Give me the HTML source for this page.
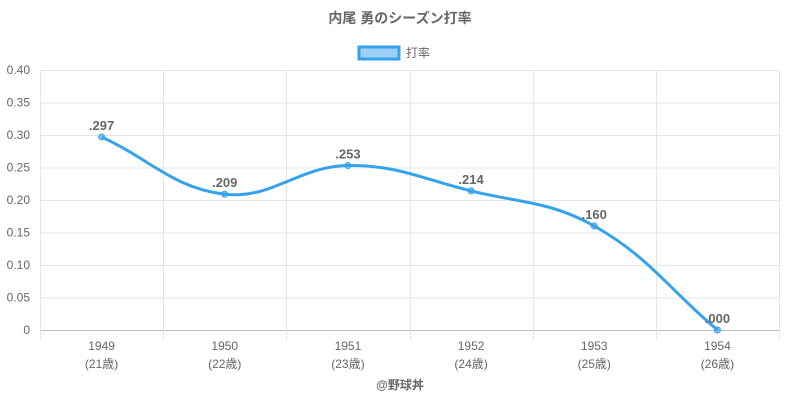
<!DOCTYPE html>
<html><head><meta charset="utf-8"><style>
body{margin:0;background:#fff;}
svg text{font-family:"Liberation Sans","Noto Sans CJK JP",sans-serif;}
</style></head><body>
<svg id="c" width="800" height="400" xmlns="http://www.w3.org/2000/svg"></svg>
<script>
const categories=["1949","1950","1951","1952","1953","1954"];
const ages=["(21歳)","(22歳)","(23歳)","(24歳)","(25歳)","(26歳)"];
const values=[0.297,0.209,0.253,0.214,0.160,0.000];
const valueLabels=[".297",".209",".253",".214",".160",".000"];
const yTicks=[0,0.05,0.10,0.15,0.20,0.25,0.30,0.35,0.40];
const yTickLabels=["0","0.05","0.10","0.15","0.20","0.25","0.30","0.35","0.40"];

const svg=document.getElementById('c');
const NS="http://www.w3.org/2000/svg";
const L=40,R=779,T=70,B=330,yMax=0.4;
const cw=(R-L)/categories.length;
const xs=i=>L+cw*(i+0.5);
const ys=v=>B-(v/yMax)*(B-T);
function el(tag,attrs,name,text){const e=document.createElementNS(NS,tag);for(const k in attrs)e.setAttribute(k,attrs[k]);


if(text!==undefined)e.textContent=text;svg.appendChild(e);return e;}

el('text',{x:400,y:23,'text-anchor':'middle','font-size':14,'font-weight':'bold',fill:'#666'},'chart-title','内尾 勇のシーズン打率');
el('rect',{x:359,y:47,width:40,height:12,fill:'rgba(54,162,235,0.5)',stroke:'#36a2eb','stroke-width':3},'legend-swatch');
el('text',{x:406,y:57,'font-size':12,fill:'#666'},'legend-label','打率');

yTicks.forEach((t,i)=>{
  el('line',{x1:L,x2:R,y1:ys(t)+0.5,y2:ys(t)+0.5,stroke:i==0?'#bbb':'#e6e6e6','stroke-width':1},'y-gridline');
  el('text',{x:30,y:ys(t)+4,'text-anchor':'end','font-size':12,fill:'#666'},'y-tick-label',yTickLabels[i]);
});
for(let i=0;i<=categories.length;i++){
  const x=Math.round(L+cw*i)+0.5;
  el('line',{x1:x,x2:x,y1:T,y2:B+10,stroke:'#e6e6e6','stroke-width':1},'x-gridline');
}
categories.forEach((c,i)=>{
  el('text',{x:xs(i),y:350,'text-anchor':'middle','font-size':12,fill:'#666'},'x-tick-label',c);
  el('text',{x:xs(i),y:368,'text-anchor':'middle','font-size':12,fill:'#666'},'x-age-label',ages[i]);
});

const pts=values.map((v,i)=>({x:xs(i),y:ys(v)}));
const t=0.4;const cps=pts.map((p,i)=>{
  const pr=pts[i-1]||p,nx=pts[i+1]||p;
  const d01=Math.hypot(p.x-pr.x,p.y-pr.y),d12=Math.hypot(nx.x-p.x,nx.y-p.y);
  let s01=d01/(d01+d12)||0,s12=d12/(d01+d12)||0;
  const fa=t*s01,fb=t*s12;
  const c=(v)=>Math.min(B,Math.max(T,v));
  return {p:{x:p.x-fa*(nx.x-pr.x),y:c(p.y-fa*(nx.y-pr.y))},n:{x:p.x+fb*(nx.x-pr.x),y:c(p.y+fb*(nx.y-pr.y))}};
});
let d=`M${pts[0].x},${pts[0].y}`;
for(let i=1;i<pts.length;i++)d+=` C${cps[i-1].n.x},${cps[i-1].n.y} ${cps[i].p.x},${cps[i].p.y} ${pts[i].x},${pts[i].y}`;
el('path',{d:d,fill:'none',stroke:'#36a2eb','stroke-width':3},'series-line');
pts.forEach((p,i)=>{
  el('circle',{cx:p.x,cy:p.y,r:3,fill:'rgba(54,162,235,0.6)',stroke:'#36a2eb','stroke-width':1},'data-point');
  el('text',{x:p.x,y:p.y-7,'text-anchor':'middle','font-size':13,'font-weight':'bold',fill:'#666'},'value-label',valueLabels[i]);
});
el('text',{x:400,y:389,'text-anchor':'middle','font-size':12,'font-weight':'bold',fill:'#666'},'credit-label','@野球丼');
</script>
</body></html>
